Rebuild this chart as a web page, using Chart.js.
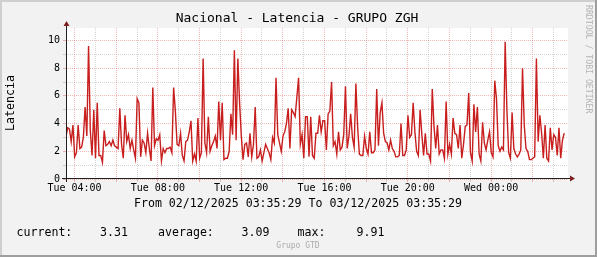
<!DOCTYPE html>
<html>
<head>
<meta charset="utf-8">
<title>Nacional - Latencia - GRUPO ZGH</title>
<script src="https://cdn.jsdelivr.net/npm/chart.js@4.4.1/dist/chart.umd.min.js"></script>
<style>
  html, body { margin:0; padding:0; background:#f2f2f2; }
  #wrap { width:597px; height:257px; }
</style>
</head>
<body>
<div id="wrap"><canvas id="chart" width="597" height="257"></canvas></div>
<script>
// 5 minute samples, 02/12/2025 03:35:29 -> 03/12/2025 03:35:29
const startHour = 3 + 35/60 + 29/3600;   // hours since Tue 00:00
const stepHours = 5/60;

const latency = [
  3.1, 3.7, 3.6, 2.7, 3.9, 1.6, 1.9, 3.9, 2.2, 2.3, 3.0, 5.2, 3.1, 9.6, 3.5, 1.7, 5.0, 1.5, 5.5, 1.7,
  1.7, 1.2, 3.5, 2.4, 2.5, 2.7, 2.4, 2.8, 2.4, 2.3, 2.2, 5.1, 2.5, 1.5, 4.6, 2.7, 3.2,
  2.2, 2.8, 2.1, 1.5, 5.8, 5.5, 1.6, 2.8, 2.6, 1.9, 3.3, 2.2, 1.3, 6.6, 2.4, 2.9, 2.8, 3.2, 1.3, 2.2,
  1.9, 2.2, 2.2, 2.3, 1.9, 6.6, 4.9, 2.5, 2.4, 3.3, 1.7, 1.3, 2.7, 2.8, 3.4,
  4.2, 1.3, 1.8, 1.3, 4.4, 1.5, 1.9, 8.7, 2.6, 1.9, 4.5, 2.0, 2.4, 2.7, 3.1, 2.2, 5.6, 2.8, 5.5, 1.4,
  1.5, 1.5, 2.0, 4.7, 3.2, 9.3, 2.8, 8.7, 5.5, 3.1, 1.4, 2.5, 2.6, 1.6, 3.3, 1.6, 2.5, 5.2,
  1.5, 1.6, 2.1, 1.3, 1.9, 2.5, 2.2, 1.9, 1.4, 3.0, 2.6, 7.3, 3.2, 2.6, 2.0, 3.1, 3.4, 4.0, 5.1, 2.2,
  5.0, 4.8, 4.5, 5.9, 7.3, 2.5, 3.2, 1.5, 4.5, 4.5, 1.6, 4.5, 1.7, 1.5, 3.3, 3.3, 4.6,
  3.4, 4.2, 4.2, 2.1, 4.7, 4.9, 7.0, 2.4, 2.7, 1.8, 3.4, 2.1, 2.3, 3.2, 6.7, 2.2, 3.1, 4.7, 3.0, 2.3,
  6.9, 3.8, 1.8, 1.7, 1.7, 3.1, 2.2, 1.8, 3.4, 1.9, 1.9, 2.1, 6.5, 2.4, 4.8, 5.5, 3.3,
  2.7, 2.6, 2.1, 2.8, 2.2, 2.0, 1.6, 1.6, 1.7, 4.0, 1.7, 1.7, 2.1, 4.6, 3.0, 3.2, 5.5, 3.4, 2.0, 1.7,
  5.0, 3.2, 1.7, 3.3, 1.8, 1.8, 1.3, 6.5, 3.8, 2.2, 3.9, 1.8, 2.1, 2.1, 1.5, 5.6, 1.8,
  2.5, 1.8, 4.4, 3.3, 3.2, 2.2, 3.9, 1.5, 2.5, 3.8, 3.9, 6.2, 1.9, 1.3, 5.4, 3.4, 5.2, 1.8, 1.3, 4.1,
  2.6, 2.1, 2.8, 3.4, 1.9, 1.6, 7.1, 5.8, 2.4, 2.0, 2.3, 2.1, 9.91, 5.0, 1.9, 1.5, 4.8,
  2.2, 1.8, 1.6, 1.8, 2.1, 8.0, 3.9, 2.2, 2.0, 1.4, 1.4, 1.5, 1.6, 8.7, 2.7, 4.6, 3.3, 1.5, 3.9, 1.5,
  1.3, 3.7, 2.1, 3.2, 3.0, 1.7, 3.7, 1.5, 2.8, 3.31
];

const hourTicks = [4,5,6,7,8,9,10,11,12,13,14,15,16,17,18,19,20,21,22,23,24,25,26,27];
const yTicks = [0,0.5,1,1.5,2,2.5,3,3.5,4,4.5,5,5.5,6,6.5,7,7.5,8,8.5,9,9.5,10,10.5];
const dayNames = ['Tue', 'Wed'];
const statLabels = ['current:', 'average:', 'max:'];
const statValues = ['3.31', '3.09', '9.91'];

const MONO = '"DejaVu Sans Mono", monospace';
const gridRed = 'rgba(222,80,80,0.42)';
const gridGrey = 'rgba(143,143,143,0.38)';

// background, shading, axes, arrows and the texts rrdtool puts round the graph
const frame = {
  id: 'rrdFrame',
  beforeDraw(chart){
    const {ctx, width, height, chartArea:a} = chart;
    ctx.save();
    ctx.fillStyle = '#f2f2f2'; ctx.fillRect(0,0,width,height);
    ctx.fillStyle = '#cfcfcf'; ctx.fillRect(0,0,width,2); ctx.fillRect(0,0,2,height);
    ctx.fillStyle = '#9e9e9e'; ctx.fillRect(0,height-2,width,2); ctx.fillRect(width-2,0,2,height);
    ctx.fillStyle = '#ffffff'; ctx.fillRect(a.left, a.top, a.right-a.left, a.bottom-a.top);
    ctx.restore();
  },
  afterDatasetsDraw(chart){
    const {ctx, chartArea:a} = chart;
    const ax = a.left + 0.5, ay = a.bottom - 0.5;
    ctx.save();
    ctx.strokeStyle = '#1f1f1f'; ctx.lineWidth = 1;
    ctx.beginPath();
    ctx.moveTo(a.left-4, ay); ctx.lineTo(a.right+2, ay);
    ctx.moveTo(ax, a.bottom+3); ctx.lineTo(ax, a.top-3);
    ctx.stroke();
    ctx.fillStyle = '#801f1f';
    ctx.beginPath();
    ctx.moveTo(ax, a.top-7); ctx.lineTo(ax-3, a.top-2); ctx.lineTo(ax+3, a.top-2); ctx.closePath();
    ctx.moveTo(a.right+7, ay); ctx.lineTo(a.right+2, ay-3); ctx.lineTo(a.right+2, ay+3); ctx.closePath();
    ctx.fill();
    ctx.restore();
  },
  afterDraw(chart){
    const {ctx} = chart;
    ctx.save();
    ctx.fillStyle = '#000';
    ctx.textBaseline = 'middle';
    ctx.textAlign = 'center';
    ctx.font = `13px ${MONO}`;
    ctx.fillText('Nacional - Latencia - GRUPO ZGH', 297, 19);
    ctx.font = `11.6px ${MONO}`;
    ctx.fillText('From 02/12/2025 03:35:29 To 03/12/2025 03:35:29', 298, 204);

    ctx.save();
    ctx.translate(11, 103);
    ctx.rotate(-Math.PI/2);
    ctx.fillText('Latencia', 0, 0);
    ctx.restore();

    ctx.textAlign = 'left';
    const labelX = [16.5, 158, 297.5];
    const valueX = [100, 241.5, 356.5];
    statLabels.forEach((l,i)=>{
      ctx.fillText(l, labelX[i], 232.5);
      ctx.fillText(statValues[i], valueX[i], 232.5);
    });

    ctx.fillStyle = '#aaaaaa';
    ctx.textAlign = 'center';
    ctx.font = `8px ${MONO}`;
    ctx.fillText('Grupo GTD', 298, 245.5);

    ctx.fillStyle = '#b4b4b4';
    ctx.textAlign = 'left';
    ctx.font = `8.2px ${MONO}`;
    ctx.translate(588, 5);
    ctx.rotate(Math.PI/2);
    ctx.fillText('RRDTOOL / TOBI OETIKER', 0, 0);
    ctx.restore();
  }
};

document.addEventListener('DOMContentLoaded', () => {
  const ctx = document.getElementById('chart').getContext('2d');
  const points = latency.map((v,i)=>({ x: startHour + i*stepHours, y: v }));

  new Chart(ctx, {
    type: 'line',
    data: {
      datasets: [{
        data: points,
        borderColor: '#c81e1e',
        borderWidth: 1.4,
        pointRadius: 0,
        fill: false,
        tension: 0
      }]
    },
    options: {
      responsive: false,
      animation: false,
      devicePixelRatio: 1,
      layout: { padding: { left:0, right:29, top:28, bottom:56 } },
      plugins: { legend:{display:false}, tooltip:{enabled:false} },
      scales: {
        x: {
          type: 'linear',
          min: startHour,
          max: startHour + 24.1,
          afterBuildTicks: s => { s.ticks = hourTicks.map(v=>({value:v})); },
          afterFit: s => { s.height = 22; },
          ticks: {
            autoSkip: false, maxRotation: 0, padding: 0, color: '#000',
            font: { family: MONO, size: 10 },
            callback: v => v % 4 === 0 ? `${dayNames[Math.floor(v/24)]} ${String(v%24).padStart(2,'0')}:00` : ''
          },
          grid: {
            color: c => (c.tick && c.tick.value % 2 === 0) ? gridRed : gridGrey,
            lineWidth: 1, tickLength: 3
          },
          border: { display:false, dash:[1,1] }
        },
        y: {
          min: 0,
          max: 10.9,
          afterBuildTicks: s => { s.ticks = yTicks.map(v=>({value:v})); },
          afterFit: s => { s.width = 66; },
          ticks: {
            padding: 3, color: '#000',
            font: { family: MONO, size: 10 },
            callback: v => v % 2 === 0 ? String(v) : ''
          },
          grid: {
            color: c => (c.tick && c.tick.value % 2 === 0) ? gridRed : gridGrey,
            lineWidth: 1, tickLength: 3
          },
          border: { display:false, dash:[1,1] }
        }
      }
    },
    plugins: [frame]
  });
});
</script>
</body>
</html>
